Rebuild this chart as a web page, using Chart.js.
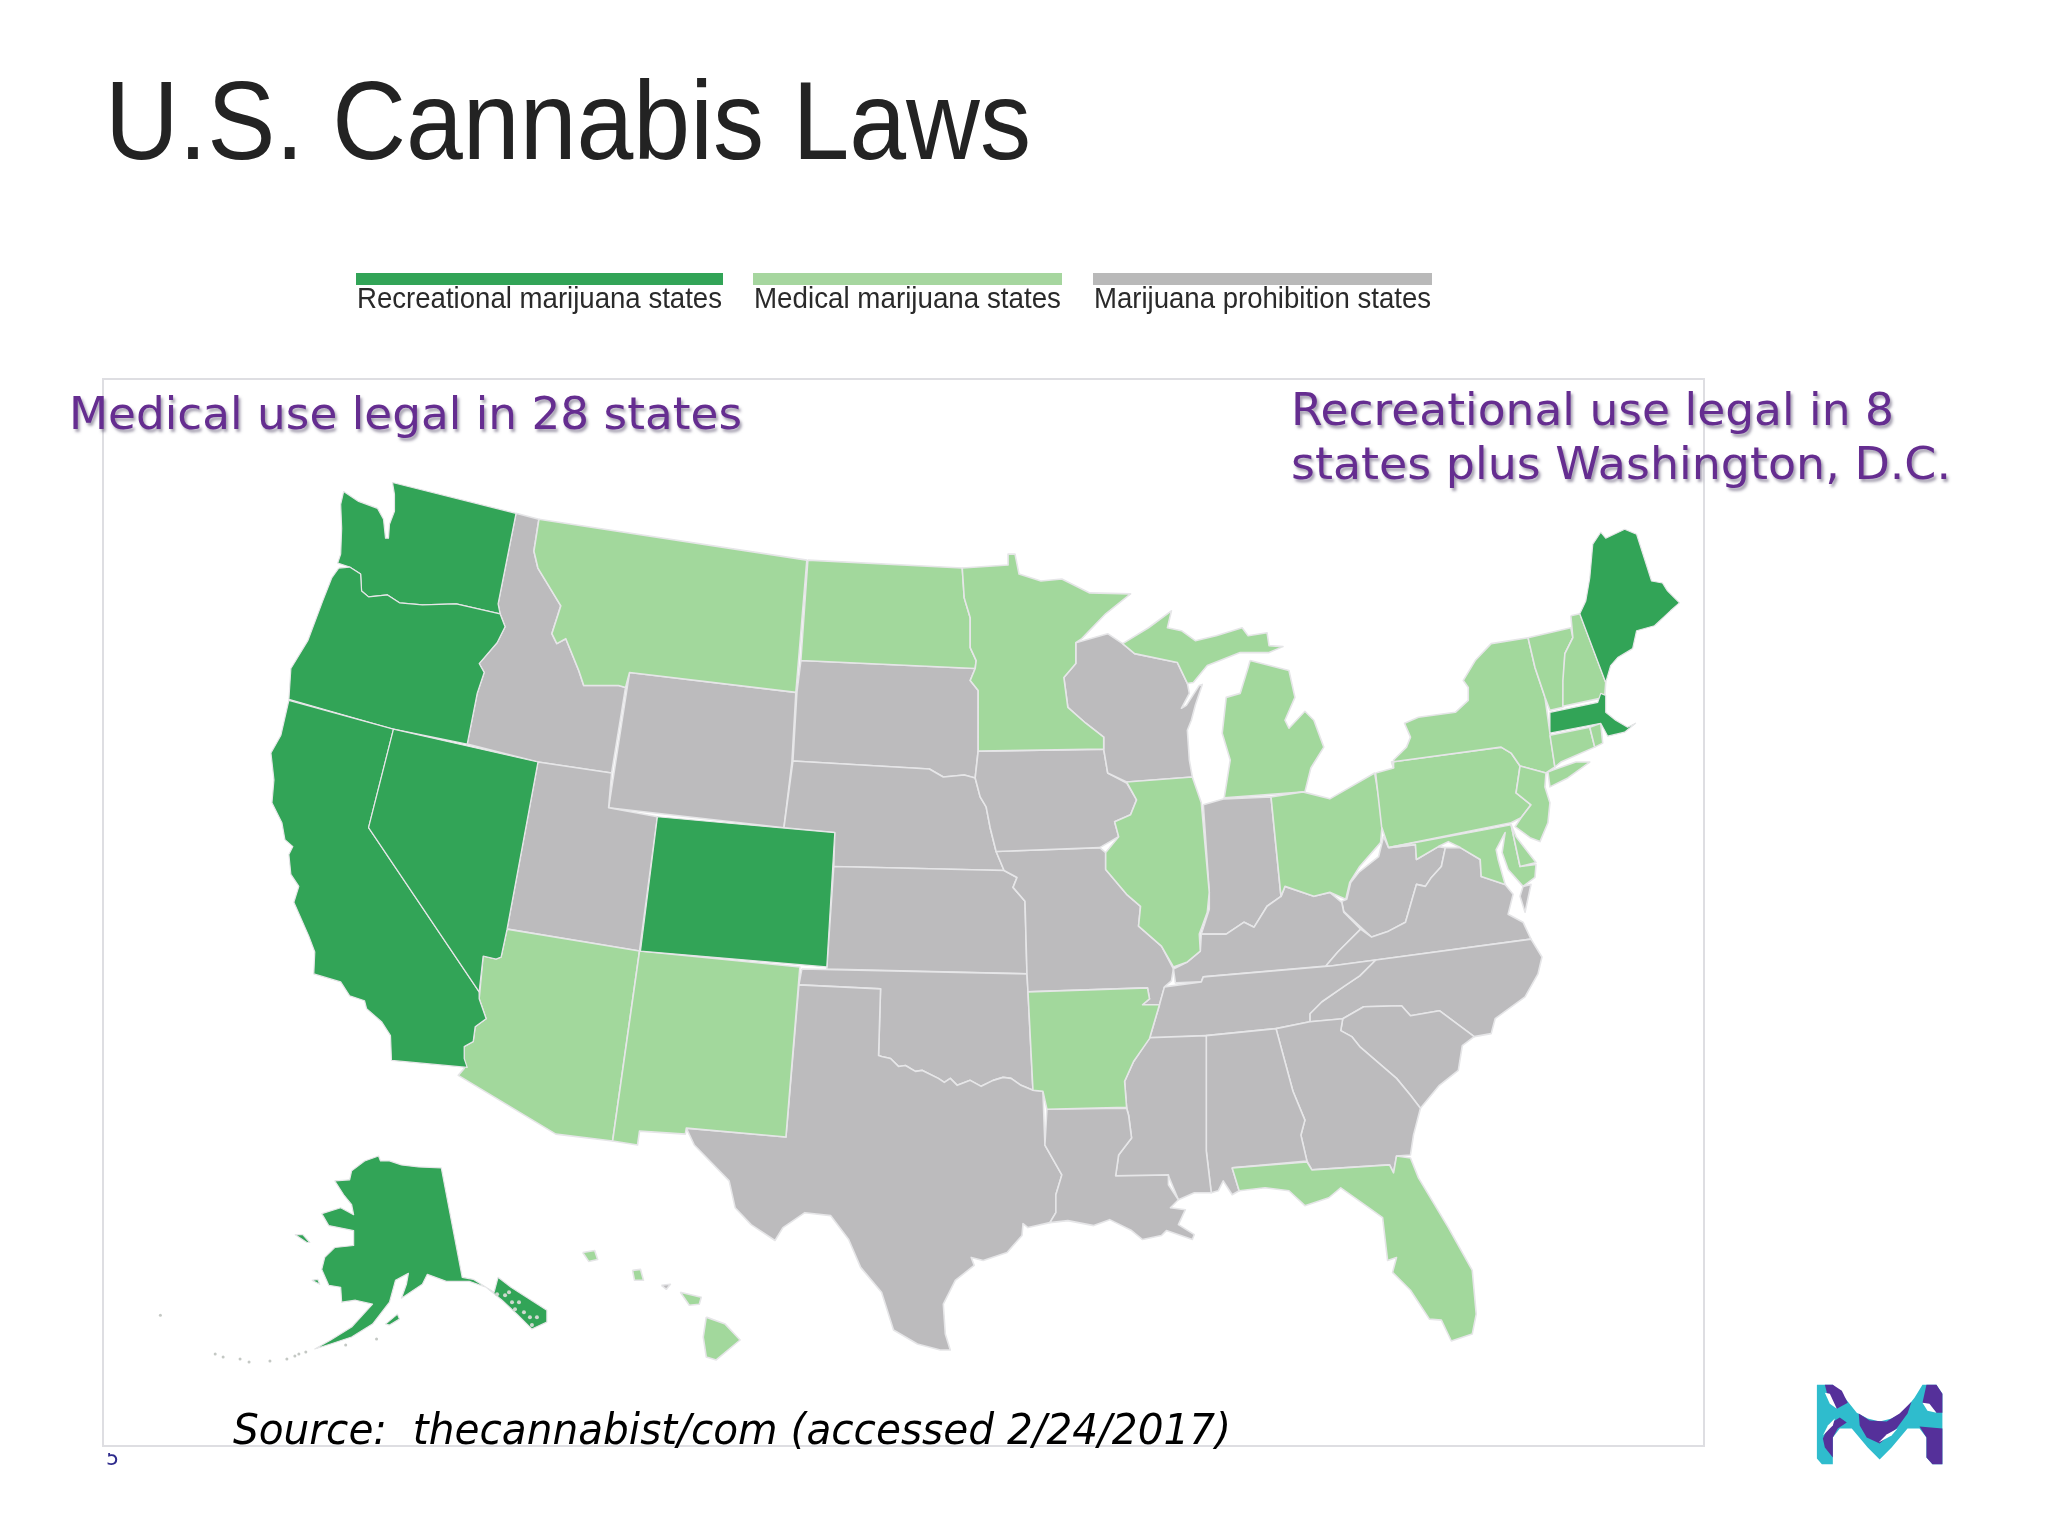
<!DOCTYPE html>
<html><head><meta charset="utf-8">
<script src="https://cdn.jsdelivr.net/npm/chart.js@4"></script>
<style>
html,body{margin:0;padding:0;background:#fff;width:2048px;height:1536px;overflow:hidden}
#stage{position:relative;width:2048px;height:1536px;isolation:isolate}
canvas{position:absolute;left:0;top:0;z-index:1}
.t{position:absolute;white-space:pre;transform-origin:0 0;line-height:1}
.bar{position:absolute}
</style></head><body>
<div id="stage"><canvas id="c" width="2048" height="1536"></canvas></div>
<script>
const recreationalColor='#32a457', medicalColor='#a2d89c', prohibitionColor='#bcbbbd', borderColor='#e6e6e8';
const legendLabels=['Recreational marijuana states','Medical marijuana states','Marijuana prohibition states'];
const legendColors=[recreationalColor,'#a6d69f','#b9b9b9'];

// state outlines, [x,y] (sheet units)
const washington=[[341,490],[356,500],[375,507],[381,518],[383,537],[386,537],[387,523],[392,510],[392,493],[390,481],[514,512],[496,603],[498,613],[454,603],[420,604],[397,602],[385,594],[366,596],[359,590],[358,573],[347,566],[335,562],[338,553],[339,527],[338,503]];
const oregon=[[336,567],[347,566],[358,573],[359,590],[366,596],[385,594],[397,602],[420,604],[454,603],[498,613],[503,626],[495,642],[477,663],[482,672],[475,693],[465,744],[391,729],[286,699],[288,668],[305,640],[320,600],[329,577]];
const california=[[286,700],[391,729],[366,828],[477,993],[477,1000],[484,1020],[473,1028],[471,1043],[462,1048],[462,1060],[465,1069],[389,1062],[388,1037],[379,1023],[364,1010],[362,1002],[347,997],[338,983],[311,975],[312,953],[306,937],[291,903],[296,887],[288,875],[286,855],[290,847],[282,840],[279,823],[269,803],[271,780],[268,753],[278,735]];
const nevada=[[391,729],[536,762],[505,930],[499,958],[494,960],[481,957],[477,993],[366,828]];
const idaho=[[514,512],[537,518],[532,550],[536,567],[559,605],[550,633],[555,643],[564,638],[577,670],[582,685],[617,685],[624,687],[610,773],[536,762],[465,744],[475,693],[482,672],[477,663],[495,642],[503,626],[498,613],[496,603]];
const montana=[[537,518],[806,559],[795,692],[628,672],[624,687],[617,685],[582,685],[577,670],[564,638],[555,643],[550,633],[559,605],[536,567],[532,550]];
const wyoming=[[628,672],[795,692],[791,762],[783,828],[607,808]];
const utah=[[536,762],[610,773],[607,808],[656,817],[638,952],[505,930]];
const colorado=[[656,817],[834,833],[826,968],[639,952]];
const arizona=[[505,930],[638,952],[611,1143],[554,1136],[456,1077],[462,1070],[462,1048],[471,1043],[473,1028],[484,1020],[477,1000],[481,957],[494,960],[499,958]];
const newMexico=[[638,952],[799,968],[785,1139],[685,1130],[684,1136],[638,1133],[636,1147],[611,1143]];
const northDakota=[[807,559],[962,567],[964,597],[970,617],[970,647],[976,660],[975,668],[800,660]];
const southDakota=[[800,660],[975,668],[970,680],[978,690],[978,750],[975,778],[964,775],[943,777],[929,769],[792,761],[796,692]];
const nebraska=[[792,761],[929,769],[943,777],[964,775],[975,778],[980,797],[986,807],[990,828],[996,852],[1004,871],[833,867],[834,833],[783,828]];
const kansas=[[833,867],[1004,871],[1017,878],[1013,888],[1025,902],[1027,975],[826,970]];
const oklahoma=[[801,970],[1027,975],[1028,992],[1033,1092],[1021,1087],[1011,1080],[1003,1079],[993,1082],[981,1088],[970,1082],[957,1087],[950,1080],[944,1084],[938,1080],[922,1072],[915,1073],[905,1067],[898,1068],[890,1060],[881,1058],[878,1057],[880,990],[798,986]];
const texas=[[798,986],[880,990],[878,1057],[881,1058],[890,1060],[898,1068],[905,1067],[915,1073],[922,1072],[938,1080],[944,1084],[950,1080],[957,1087],[970,1082],[981,1088],[993,1082],[1003,1079],[1011,1080],[1021,1087],[1033,1092],[1043,1093],[1045,1147],[1062,1177],[1056,1197],[1056,1215],[1050,1225],[1028,1230],[1023,1226],[1022,1238],[1007,1255],[983,1263],[971,1260],[974,1268],[955,1283],[943,1307],[945,1337],[950,1353],[940,1353],[917,1347],[893,1333],[881,1295],[860,1270],[848,1242],[830,1218],[804,1215],[782,1230],[774,1243],[750,1227],[734,1210],[728,1183],[693,1147],[685,1130],[785,1139]];
const arkansas=[[1028,993],[1148,989],[1150,1000],[1143,1006],[1160,1006],[1150,1040],[1134,1063],[1125,1083],[1127,1109],[1047,1111],[1043,1093],[1033,1092]];
const missouri=[[996,852],[1100,848],[1106,853],[1106,870],[1127,895],[1141,907],[1139,927],[1162,947],[1174,970],[1172,982],[1165,988],[1160,1006],[1143,1006],[1150,1000],[1148,989],[1028,993],[1027,975],[1025,902],[1013,888],[1017,878],[1004,871]];
const iowa=[[978,751],[1104,749],[1108,773],[1127,783],[1137,800],[1131,815],[1115,822],[1119,837],[1100,848],[996,852],[990,828],[986,807],[980,797],[975,778]];
const minnesota=[[962,567],[1008,564],[1008,553],[1015,553],[1019,573],[1041,580],[1062,578],[1090,592],[1131,593],[1106,613],[1082,638],[1076,642],[1076,663],[1064,677],[1068,707],[1086,723],[1104,737],[1104,749],[978,751],[978,690],[970,680],[975,668],[976,660],[970,647],[970,617],[964,597]];
const wisconsin=[[1076,642],[1108,633],[1123,643],[1135,653],[1178,662],[1188,683],[1190,693],[1182,708],[1187,705],[1200,685],[1203,684],[1196,705],[1192,720],[1188,730],[1190,760],[1193,777],[1127,782],[1108,773],[1104,749],[1104,737],[1086,723],[1068,707],[1064,677],[1076,663]];
const michiganUpper=[[1123,643],[1149,627],[1172,610],[1168,627],[1182,630],[1196,640],[1217,635],[1243,627],[1249,635],[1268,632],[1270,645],[1284,646],[1270,652],[1241,652],[1208,665],[1194,682],[1188,683],[1178,662],[1135,653]];
const michiganLower=[[1251,660],[1290,670],[1296,697],[1286,720],[1290,728],[1306,711],[1315,720],[1325,747],[1312,768],[1306,792],[1225,798],[1231,760],[1223,733],[1227,697],[1241,693],[1249,667]];
const illinois=[[1127,782],[1193,777],[1202,803],[1210,893],[1208,913],[1200,935],[1201,952],[1188,963],[1174,968],[1162,947],[1139,927],[1141,907],[1127,895],[1106,870],[1106,853],[1119,837],[1115,822],[1131,815],[1137,800]];
const indiana=[[1204,805],[1225,799],[1272,797],[1282,897],[1268,907],[1255,928],[1245,923],[1227,935],[1202,935],[1210,910],[1210,893]];
const ohio=[[1272,797],[1304,792],[1331,799],[1376,773],[1384,820],[1382,843],[1361,867],[1351,883],[1347,900],[1331,893],[1315,897],[1286,887],[1282,897]];
const pennsylvania=[[1377,773],[1395,768],[1393,762],[1503,747],[1513,753],[1522,766],[1518,793],[1533,805],[1523,818],[1513,823],[1390,848],[1383,827]];
const newYork=[[1395,768],[1395,760],[1408,747],[1412,737],[1406,723],[1420,717],[1457,712],[1470,700],[1470,687],[1465,680],[1477,660],[1493,643],[1530,637],[1537,667],[1547,697],[1552,733],[1557,767],[1548,773],[1522,766],[1513,753],[1503,747],[1393,762]];
const longIsland=[[1550,772],[1552,787],[1570,778],[1592,762],[1578,762],[1555,770]];
const newJersey=[[1522,766],[1548,773],[1547,787],[1552,803],[1550,823],[1542,842],[1532,838],[1517,827],[1523,818],[1533,805],[1518,793]];
const vermont=[[1530,637],[1573,627],[1575,637],[1567,653],[1565,707],[1552,710],[1547,697],[1537,667]];
const newHampshire=[[1573,615],[1582,613],[1608,682],[1607,697],[1565,706],[1565,680],[1567,653],[1575,637]];
const maine=[[1582,613],[1588,600],[1592,577],[1595,543],[1603,531],[1608,537],[1627,528],[1639,533],[1654,580],[1665,582],[1670,590],[1682,602],[1673,610],[1657,625],[1639,630],[1635,648],[1620,657],[1613,665],[1608,682]];
const massachusetts=[[1552,712],[1600,702],[1603,693],[1608,695],[1608,712],[1618,720],[1630,727],[1638,723],[1627,732],[1610,736],[1603,723],[1552,733]];
const connecticut=[[1552,735],[1592,727],[1597,747],[1563,762],[1557,767]];
const rhodeIsland=[[1592,727],[1603,723],[1605,743],[1597,747]];
const maryland=[[1390,848],[1513,825],[1522,867],[1538,865],[1537,878],[1525,887],[1510,870],[1504,853],[1507,833],[1498,850],[1500,860],[1507,885],[1483,877],[1482,860],[1462,848],[1450,842],[1440,847],[1418,860],[1417,845]];
const delaware=[[1513,825],[1518,837],[1538,863],[1522,867]];
const virginiaShore=[[1525,887],[1533,885],[1527,913],[1522,897]];
const westVirginia=[[1390,848],[1417,845],[1418,860],[1440,847],[1447,848],[1443,867],[1433,878],[1427,887],[1418,885],[1407,923],[1390,932],[1373,938],[1362,928],[1345,912],[1343,902],[1348,900],[1352,883],[1360,873],[1380,857],[1385,837]];
const kentucky=[[1202,935],[1227,935],[1245,923],[1255,928],[1268,907],[1282,897],[1286,887],[1315,897],[1331,893],[1343,903],[1345,913],[1362,930],[1339,953],[1327,967],[1204,978],[1202,983],[1176,984],[1174,970],[1188,963],[1201,952]];
const virginia=[[1327,967],[1339,953],[1362,930],[1373,938],[1390,932],[1407,923],[1418,885],[1427,887],[1433,878],[1443,867],[1447,848],[1462,848],[1482,860],[1483,877],[1507,885],[1515,895],[1510,915],[1525,923],[1533,940],[1377,961],[1332,967]];
const northCarolina=[[1377,961],[1533,940],[1544,958],[1540,975],[1527,998],[1497,1020],[1493,1035],[1476,1038],[1441,1012],[1412,1017],[1403,1007],[1365,1008],[1344,1020],[1311,1023],[1311,1015],[1323,1003],[1346,987],[1361,977]];
const tennessee=[[1165,988],[1202,983],[1204,978],[1332,967],[1377,961],[1361,977],[1346,987],[1323,1003],[1311,1015],[1311,1023],[1277,1030],[1207,1037],[1150,1040],[1160,1006]];
const southCarolina=[[1344,1020],[1365,1008],[1403,1007],[1412,1017],[1441,1012],[1476,1038],[1464,1047],[1460,1072],[1441,1087],[1422,1110],[1412,1097],[1398,1080],[1361,1048],[1353,1038],[1342,1032]];
const georgia=[[1277,1030],[1311,1023],[1344,1020],[1342,1032],[1353,1038],[1361,1048],[1398,1080],[1412,1097],[1422,1110],[1415,1137],[1412,1157],[1398,1158],[1395,1175],[1391,1167],[1313,1172],[1308,1163],[1302,1137],[1306,1122],[1294,1093]];
const florida=[[1233,1170],[1308,1164],[1313,1172],[1391,1167],[1395,1175],[1398,1158],[1412,1160],[1420,1180],[1450,1230],[1474,1273],[1478,1317],[1474,1337],[1453,1344],[1443,1323],[1431,1322],[1412,1293],[1394,1275],[1398,1260],[1389,1263],[1384,1220],[1370,1210],[1342,1190],[1330,1200],[1306,1208],[1290,1193],[1266,1190],[1240,1193]];
const alabama=[[1207,1037],[1277,1030],[1294,1093],[1306,1122],[1302,1137],[1308,1163],[1233,1170],[1240,1193],[1233,1197],[1224,1183],[1219,1193],[1212,1195],[1207,1153]];
const mississippi=[[1150,1039],[1207,1037],[1207,1153],[1212,1195],[1195,1195],[1179,1202],[1169,1178],[1116,1178],[1119,1157],[1132,1140],[1129,1117],[1127,1109],[1125,1083],[1134,1063]];
const louisiana=[[1047,1111],[1127,1110],[1129,1117],[1132,1140],[1119,1157],[1116,1178],[1169,1177],[1169,1187],[1179,1202],[1171,1210],[1186,1212],[1179,1227],[1195,1237],[1193,1242],[1167,1233],[1162,1238],[1143,1242],[1132,1233],[1110,1222],[1094,1228],[1068,1223],[1050,1225],[1056,1215],[1056,1197],[1062,1177],[1045,1147]];
const alaska=[[332,1183],[347,1182],[349,1173],[362,1163],[376,1158],[378,1163],[387,1163],[399,1167],[416,1169],[439,1170],[460,1280],[471,1282],[492,1295],[496,1280],[509,1290],[545,1313],[545,1325],[530,1332],[515,1317],[500,1303],[484,1290],[467,1284],[444,1284],[425,1277],[420,1287],[399,1301],[404,1287],[406,1276],[393,1283],[387,1305],[370,1327],[349,1340],[328,1347],[312,1352],[328,1343],[349,1330],[370,1307],[353,1303],[339,1305],[338,1290],[326,1288],[319,1272],[322,1260],[332,1250],[351,1248],[351,1233],[326,1228],[319,1216],[338,1210],[351,1217],[349,1207],[341,1197]];
const stLawrence=[[292,1237],[300,1237],[307,1245],[304,1245]];
const kodiak=[[383,1327],[395,1317],[397,1322],[387,1328]];
const nunivak=[[309,1283],[315,1282],[317,1287]];
const hawaiiBig=[[705,1320],[724,1327],[739,1343],[715,1363],[705,1360],[702,1340]];
const maui=[[679,1295],[700,1300],[698,1307],[688,1308]];
const oahu=[[631,1273],[639,1272],[642,1283],[633,1283]];
const kauai=[[581,1255],[593,1253],[596,1262],[587,1264]];
const molokai=[[660,1288],[669,1287],[665,1292]];
const aleutianSpecks=[[157,1318],[212,1357],[220,1360],[237,1362],[246,1365],[267,1364],[284,1362],[292,1359],[296,1357],[303,1355],[343,1348],[374,1342]];
const panhandleSpecks=[[495,1297],[503,1298],[510,1305],[517,1305],[522,1315],[528,1320],[535,1320],[507,1295],[513,1312],[530,1328]];

const recreationalStates=[washington,oregon,california,nevada,colorado,maine,massachusetts,alaska,stLawrence,kodiak,nunivak];
const medicalStates=[montana,northDakota,minnesota,michiganUpper,michiganLower,illinois,arkansas,arizona,newMexico,florida,ohio,pennsylvania,newYork,longIsland,newJersey,vermont,newHampshire,connecticut,rhodeIsland,maryland,delaware,hawaiiBig,maui,oahu,kauai];
const prohibitionStates=[idaho,wyoming,utah,southDakota,nebraska,kansas,oklahoma,texas,missouri,iowa,wisconsin,indiana,westVirginia,kentucky,virginia,virginiaShore,northCarolina,tennessee,southCarolina,georgia,alabama,mississippi,louisiana,molokai];

// logo shapes
const logoTeal=[[1820,1388],[1836,1388],[1848,1401],[1860,1416],[1871,1422],[1883,1425],[1895,1422],[1906,1416],[1918,1401],[1926,1388],[1940,1388],[1946,1397],[1946,1468],[1936,1468],[1930,1461],[1930,1441],[1923,1432],[1911,1432],[1895,1451],[1883,1463],[1871,1451],[1855,1432],[1843,1432],[1836,1441],[1836,1468],[1825,1468],[1820,1462]];
const logoPurpleA=[[1828,1388],[1836,1388],[1845,1394],[1851,1406],[1840,1412],[1835,1406],[1830,1396]];
const logoPurpleB=[[1826,1442],[1833,1427],[1843,1421],[1850,1426],[1841,1432],[1836,1441],[1836,1461],[1828,1451]];
const logoPurpleC=[[1862,1417],[1873,1424],[1890,1425],[1903,1417],[1915,1405],[1911,1417],[1900,1432],[1883,1447],[1870,1441],[1863,1429]];
const logoPurpleD=[[1926,1406],[1930,1388],[1940,1388],[1946,1397],[1946,1416],[1940,1416],[1933,1408]];
const logoPurpleE=[[1923,1430],[1946,1432],[1946,1468],[1936,1468],[1930,1461],[1930,1441]];
const logoSlitA=[[1828,1396],[1833,1397],[1840,1412],[1833,1407]];
const logoSlitB=[[1826,1439],[1831,1429],[1838,1422],[1836,1429]];
const logoSlitC=[[1926,1406],[1933,1407],[1940,1416],[1931,1414]];
const logoSlitD=[[1882,1446],[1890,1438],[1901,1432],[1895,1439]];
const logoPurpleShapes=[logoPurpleA,logoPurpleB,logoPurpleC,logoPurpleD,logoPurpleE];
const logoSlits=[logoSlitA,logoSlitB,logoSlitC,logoSlitD];

function shape(pts,color,stroke,width){
  return {data:pts.concat([pts[0]]).map(p=>({x:p[0],y:p[1]})),showLine:true,fill:'shape',backgroundColor:color,
    borderColor:stroke,borderWidth:width,borderJoinStyle:'round',pointRadius:0,tension:0};
}
function specks(pts,color,r){
  return {data:pts.map(p=>({x:p[0],y:p[1]})),showLine:false,pointRadius:r,pointBackgroundColor:color,pointBorderWidth:0};
}
// paint order, bottom to top; Chart.js paints the last dataset first, so the list is reversed below
const painted=[];
prohibitionStates.forEach(p=>painted.push(shape(p,prohibitionColor,borderColor,1.6)));
medicalStates.forEach(p=>painted.push(shape(p,medicalColor,borderColor,1.6)));
recreationalStates.forEach(p=>painted.push(shape(p,recreationalColor,borderColor,1.2)));
painted.push(specks(aleutianSpecks,'#c4c8c4',1.5));
painted.push(specks(panhandleSpecks,'#cfd8cf',2));
painted.push(shape(logoTeal,'#2fbccd','#2fbccd',0));
logoPurpleShapes.forEach(p=>painted.push(shape(p,'#55309a','#55309a',0)));
logoSlits.forEach(p=>painted.push(shape(p,'#ffffff','#ffffff',0)));
const datasets=painted.reverse();

new Chart(document.getElementById('c'),{type:'scatter',data:{datasets},options:{
  responsive:false,animation:false,devicePixelRatio:1,layout:{padding:0},
  plugins:{legend:{display:false},tooltip:{enabled:false},title:{display:false}},
  scales:{x:{type:'linear',display:false,min:0,max:2048},y:{type:'linear',display:false,reverse:true,min:0,max:1536}}
}});

const stage=document.getElementById('stage');
function box(x,y,w,h,css){const d=document.createElement('div');d.className='bar';d.style.cssText=`left:${x}px;top:${y}px;width:${w}px;height:${h}px;${css}`;stage.appendChild(d);return d;}
function text(str,x,baseline,width,size,css){
  const d=document.createElement('div');d.className='t';d.textContent=str;
  d.style.cssText=`left:${x}px;font-size:${size}px;${css}`;stage.appendChild(d);
  const w=d.getBoundingClientRect().width;
  d.style.transform=`scaleX(${width/w})`;
  const span=document.createElement('span');span.style.cssText='display:inline-block;width:0;height:0;vertical-align:baseline';d.appendChild(span);
  const off=span.getBoundingClientRect().bottom-d.getBoundingClientRect().top;
  d.style.top=(baseline-off)+'px';
  return d;
}
box(102,378,1603,1069,'box-sizing:border-box;border:2px solid #dedee2;background:#fff;z-index:0');
const sans='font-family:"Liberation Sans",Arial,sans-serif;';
const deja='font-family:"DejaVu Sans",Verdana,sans-serif;';
const purple='color:#652d90;text-shadow:2px 3px 3px rgba(90,80,110,.55);z-index:3;';
text('U.S. Cannabis Laws',105,159,926,112,sans+'color:#232323;z-index:3;');
const legendX=[356,753,1093],legendW=[367,309,339];
legendLabels.forEach((l,i)=>{
  box(legendX[i],273,legendW[i],12,`background:${legendColors[i]};z-index:3`);
  text(l,legendX[i]+1,308,legendW[i]-2,30,sans+'color:#2a2a2a;z-index:3;');
});
text('Medical use legal in 28 states',69,429,673,45,deja+purple);
text('Recreational use legal in 8',1291,425,603,45,deja+purple);
text('states plus Washington, D.C.',1291,479,660,45,deja+purple);
text('Source:  thecannabist/com (accessed 2/24/2017)',233,1444,998,43,deja+'font-style:italic;color:#000;z-index:3;');
text('5',106,1465,13,22,deja+'color:#2d2a8c;z-index:3;');
box(100,1447,30,6,'background:#fff;z-index:4');
</script>
</body></html>
